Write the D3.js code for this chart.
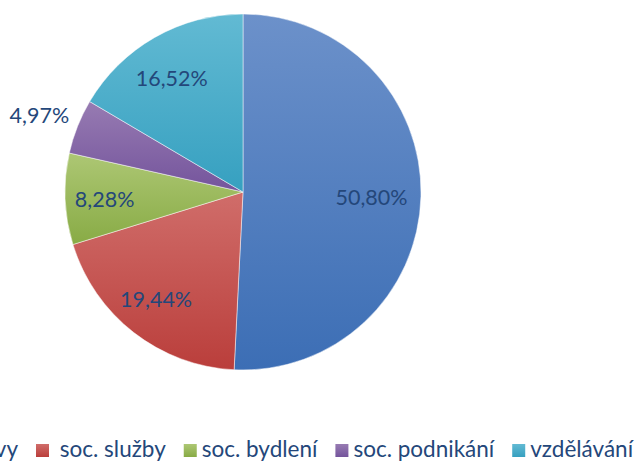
<!DOCTYPE html>
<html>
<head>
<meta charset="utf-8">
<script src="https://cdn.jsdelivr.net/npm/d3@7"></script>
<style>
  body { margin: 0; background: #fff; }
  svg { display: block; font-family: Lato, "Open Sans", sans-serif; }
  .legend text { white-space: pre; }
</style>
</head>
<body>
<svg id="chart" width="637" height="462"></svg>
<script>
// data
const categories = ['investice a opravy', ' soc. služby', 'soc. bydlení', 'soc. podnikání', 'vzdělávání'];
const shares = [50.80, 19.44, 8.28, 4.97, 16.52];
const lightColors = ['#6c91ca', '#d06d6a', '#adc774', '#977bb2', '#62bad3'];
const darkColors = ['#3c6eb5', '#ba3e3b', '#88ab45', '#74549c', '#36a0c0'];

const width = 637;
const height = 462;
const cx = 243, cy = 192, radius = 178;
const textColor = '#24477a';

const svg = d3.select('#chart');
const defs = svg.append('defs');

categories.forEach((c, i) => {
  const g = defs.append('linearGradient')
    .attr('id', 'grad' + i)
    .attr('x1', 0).attr('y1', 0)
    .attr('x2', 0).attr('y2', 1);
  g.append('stop').attr('offset', '0%').attr('stop-color', lightColors[i]);
  g.append('stop').attr('offset', '100%').attr('stop-color', darkColors[i]);
});

const data = categories.map((c, i) => ({ name: c, value: shares[i], index: i }));

const pie = d3.pie()
  .sort(null)
  .value((d) => d.value);

const arc = d3.arc().innerRadius(0).outerRadius(radius);
const labelArc = d3.arc().innerRadius(radius * 0.75).outerRadius(radius * 0.75);
const outerLabelArc = d3.arc().innerRadius(radius * 1.2).outerRadius(radius * 1.2);

const arcs = pie(data);

const g = svg.append('g').attr('transform', `translate(${cx},${cy})`);

g.selectAll('path.slice')
  .data(arcs)
  .enter()
  .append('path')
  .attr('class', 'slice')
  .attr('d', arc)
  .attr('fill', (d) => `url(#grad${d.data.index})`)
  .attr('stroke', '#ffffff')
  .attr('stroke-opacity', 0.6)
  .attr('stroke-width', 0.8);

const fmt = (v) => v.toFixed(2).replace('.', ',') + '%';

g.selectAll('text.lbl')
  .data(arcs)
  .enter()
  .append('text')
  .attr('class', 'lbl')
  .attr('transform', (d) => {
    // small slices get their label outside the pie
    const p = d.data.value < 6 ? outerLabelArc.centroid(d) : labelArc.centroid(d);
    return `translate(${p[0] - 5},${p[1] + 2})`;
  })
  .attr('text-anchor', 'middle')
  .attr('dy', '0.36em')
  .attr('font-size', 21.5)
  .attr('fill', textColor)
  .text((d) => fmt(d.data.value));

// legend, running off the left edge like the cropped original
const legend = svg.append('g').attr('class', 'legend');
const legendY = 457;
const box = 13;
const boxGap = 5;
const itemGap = 18;
const legendFont = 22.5;

const items = legend.selectAll('g.item')
  .data(data)
  .enter()
  .append('g')
  .attr('class', 'item');

items.append('rect')
  .attr('width', box)
  .attr('height', box)
  .attr('y', legendY - box)
  .attr('fill', (d) => `url(#grad${d.index})`);

items.append('text')
  .attr('x', box + boxGap)
  .attr('y', legendY)
  .attr('font-size', legendFont)
  .attr('fill', textColor)
  .text((d) => d.name);

// place items: second one starts at x=36, the rest follow; first goes before it
const widths = [];
items.each(function (d, i) {
  widths[i] = box + boxGap + d3.select(this).select('text').node().getComputedTextLength();
});
const xs = [];
xs[1] = 36;
for (let i = 2; i < data.length; i++) xs[i] = xs[i - 1] + widths[i - 1] + itemGap;
xs[0] = xs[1] - itemGap - widths[0];
items.attr('transform', (d, i) => `translate(${xs[i]},0)`);
</script>
</body>
</html>
